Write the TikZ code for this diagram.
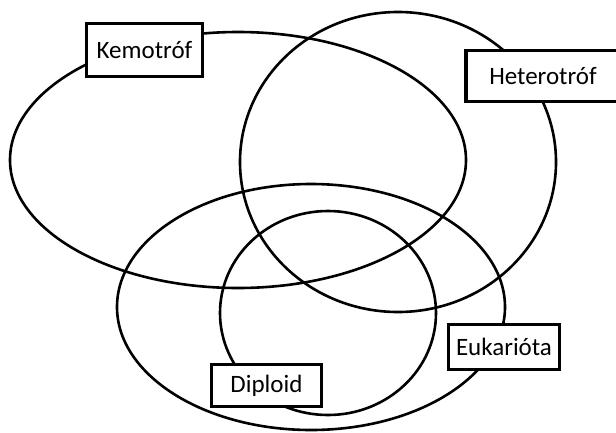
\documentclass[tikz,border=0pt]{standalone}
\usepackage{fontspec}
\setmainfont{Carlito}
\begin{document}
\begin{tikzpicture}[x=1pt,y=-1pt,
  ring/.style={draw=black, line width=2.6pt},
  namebox/.style={draw=black, line width=3.4pt, fill=white, inner sep=0pt, font=\fontsize{25}{28}\selectfont, text=black}]
\useasboundingbox (0,0) rectangle (616,432);
\draw[ring] (238,160) ellipse [x radius=228pt, y radius=128pt];
\draw[ring] (398,162) ellipse [x radius=158pt, y radius=150pt];
\draw[ring] (311,307) ellipse [x radius=194pt, y radius=123pt];
\draw[ring] (328,313) ellipse [x radius=108pt, y radius=102pt];
\node[namebox, minimum width=116pt, minimum height=53pt] (kemo) at (144.5,50) {Kemotróf};
\node[namebox, minimum width=154pt, minimum height=51pt] (hetero) at (543,76) {Heterotróf};
\node[namebox, minimum width=111pt, minimum height=45pt] (euk) at (504,347) {Eukarióta};
\node[namebox, minimum width=110pt, minimum height=42pt] (dipl) at (266.5,385.5) {Diploid};
\end{tikzpicture}
\end{document}
